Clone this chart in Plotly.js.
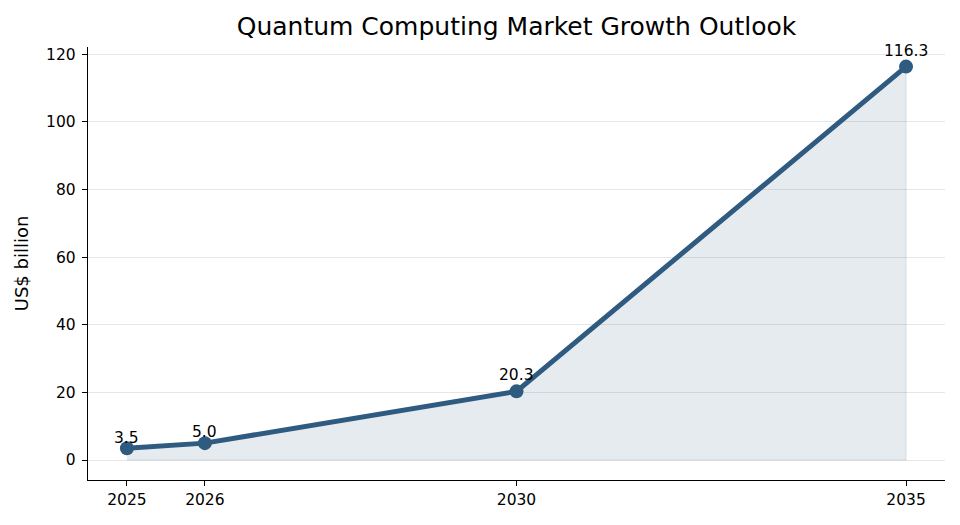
<!DOCTYPE html>
<html>
<head>
<meta charset="utf-8">
<script src="https://cdn.plot.ly/plotly-3.0.1.min.js"></script>
<style>html,body{margin:0;padding:0;background:#fff;}#chart{width:960px;height:525px;}</style>
</head>
<body>
<div id="chart"></div>
<script>
const years = [2025, 2026, 2030, 2035];
const values = [3.5, 5.0, 20.3, 116.3];
const labels = ["3.5", "5.0", "20.3", "116.3"];
const yTicks = [0, 20, 40, 60, 80, 100, 120];

const lineColor = '#2f5b80';
const font = 'DejaVu Sans, sans-serif';
const labelShift = [10, 11, 16, 16];

const polyX = years.concat([years[years.length - 1], years[0]]);
const polyY = values.concat([0, 0]);

const traces = [
  {
    x: polyX, y: polyY, type: 'scatter', mode: 'lines', fill: 'toself',
    fillcolor: 'rgba(47,91,128,0.12)',
    line: {color: 'rgba(47,91,128,0.15)', width: 1},
    hoverinfo: 'skip', showlegend: false
  },
  {
    x: years, y: values, type: 'scatter', mode: 'lines+markers',
    line: {color: lineColor, width: 5},
    marker: {color: lineColor, size: 14},
    showlegend: false
  }
];

const annotations = years.map((yr, i) => ({
  x: yr, y: values[i], text: labels[i], showarrow: false,
  yanchor: 'middle', yshift: labelShift[i],
  font: {family: font, size: 15.5, color: '#000'}
}));

const layout = {
  width: 960, height: 525,
  margin: {l: 88, r: 15, t: 47, b: 45},
  paper_bgcolor: '#fff', plot_bgcolor: '#fff',
  title: {text: 'Quantum Computing Market Growth Outlook', x: 0.538, xanchor: 'center', y: 0.95, yanchor: 'middle',
          font: {family: font, size: 25, color: '#000'}},
  xaxis: {
    range: [2024.5, 2035.5], tickvals: years, ticktext: years.map(String),
    showgrid: false, zeroline: false, showline: true, linecolor: '#000', linewidth: 1.2,
    ticks: 'outside', ticklen: 5, tickcolor: '#000', tickwidth: 1,
    tickfont: {family: font, size: 15.5, color: '#000'}
  },
  yaxis: {
    range: [-5.9, 122.1], tickvals: yTicks,
    showgrid: true, gridcolor: '#e6e6e6', gridwidth: 1, zeroline: false,
    showline: true, linecolor: '#000', linewidth: 1.2,
    ticks: 'outside', ticklen: 5, tickcolor: '#000', tickwidth: 1,
    ticklabelstandoff: 3,
    tickfont: {family: font, size: 15.5, color: '#000'},
    title: {text: 'US$ billion', font: {family: font, size: 18, color: '#000'}, standoff: 12}
  },
  annotations: annotations,
  font: {family: font}
};

Plotly.newPlot('chart', traces, layout, {displayModeBar: false, staticPlot: true});
</script>
</body>
</html>
